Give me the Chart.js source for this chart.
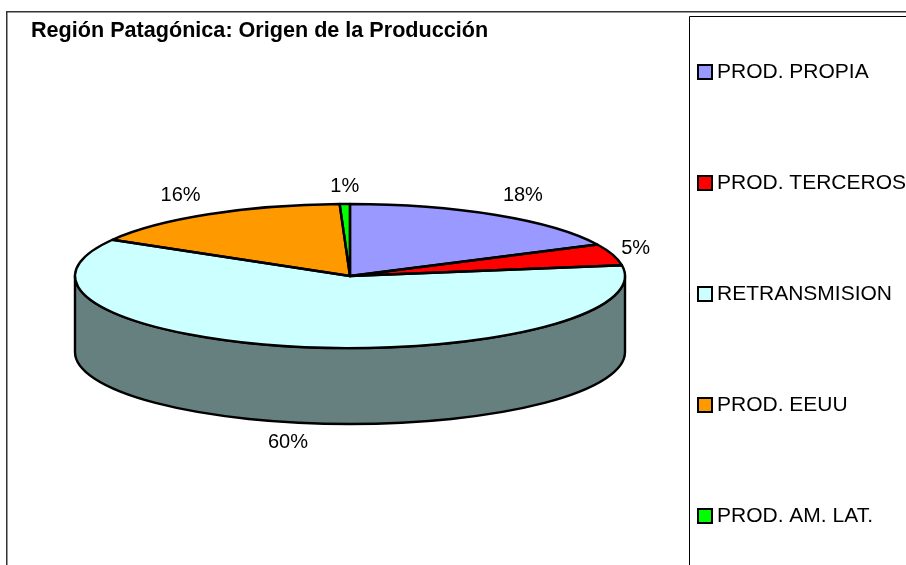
<!DOCTYPE html>
<html><head><meta charset="utf-8">
<style>html,body{margin:0;padding:0;background:#fff;overflow:hidden}canvas{display:block}</style>
<script src="https://cdn.jsdelivr.net/npm/chart.js@4"></script>
</head><body>
<div style="width:906px;height:565px"><canvas id="c" width="906" height="565"></canvas></div>
<script>
const titleText = 'Región Patagónica: Origen de la Producción';
const categories = ['PROD. PROPIA','PROD. TERCEROS','RETRANSMISION','PROD. EEUU','PROD. AM. LAT.'];
const shares = [17.8,4.8,60.8,16.0,0.6];
const shareLabels = ['18%','5%','60%','16%','1%'];
const sliceColors = ['#9999FF','#FF0000','#CCFFFF','#FF9900','#00FF00'];
const wallColors = ['#4C4C80','#800000','#668080','#804C00','#008000'];
const FONT = '"Liberation Sans", Arial, sans-serif';
const GEO = {cx:350, cy:276, rx:275, ry:72, depth:76, stroke:2.4};
const labelOffsets = [[27,-19],[23,-6],[-10.5,20],[-28,-19],[0,-18]];

function swatch(color){
  const s = document.createElement('canvas'); s.width = 16; s.height = 16;
  const g = s.getContext('2d');
  g.fillStyle = color; g.fillRect(1,1,14,14);
  g.strokeStyle = '#000'; g.lineWidth = 2; g.strokeRect(1,1,14,14);
  return s;
}

const pie3d = {
  id:'pie3d',
  beforeLayout(chart){
    const lg = chart.legend;
    if(lg && !lg.__w){ lg.__w = true; const f = lg.fit; lg.fit = function(){ this.maxHeight = 3000; f.call(this); }; }
  },
  afterLayout(chart){
    chart.chartArea = {left:GEO.cx-GEO.rx, right:GEO.cx+GEO.rx, top:GEO.cy-GEO.rx, bottom:GEO.cy+GEO.rx, width:2*GEO.rx, height:2*GEO.rx};
    const t = chart.titleBlock;
    const h = t.height;
    t.left = 31; t.right = 689; t.top = 31-h/2; t.bottom = t.top+h; t.width = 658;
    const lg = chart.legend, p = lg.options.labels.padding, fs = lg.options.labels.font.size;
    lg.left = 703.5-p; lg.right = 906; lg.top = 72-fs/2-p; lg.bottom = 3000; lg.width = lg.right-lg.left; lg.height = lg.bottom-lg.top;
  },
  beforeDraw(chart){
    const c = chart.ctx;
    c.save();
    c.fillStyle='#fff'; c.fillRect(0,0,906,565);
    c.strokeStyle='#333'; c.lineWidth=1.5;
    c.beginPath(); c.moveTo(6.75,570); c.lineTo(6.75,11.75); c.lineTo(910,11.75); c.stroke();
    c.strokeStyle='#000'; c.lineWidth=1;
    c.beginPath(); c.moveTo(689.5,570); c.lineTo(689.5,16.5); c.lineTo(910,16.5); c.stroke();
    c.restore();
  },
  beforeDatasetsDraw(chart){
    const c = chart.ctx, {cx,cy,rx,ry,depth,stroke} = GEO;
    const arcs = chart.getDatasetMeta(0).data;
    c.save();
    c.lineJoin='round'; c.lineWidth=stroke; c.strokeStyle='#000';
    arcs.forEach((arc,i)=>{
      const a = Math.max(arc.startAngle,0), b = Math.min(arc.endAngle,Math.PI);
      if(b<=a) return;
      c.beginPath();
      c.ellipse(cx,cy,rx,ry,0,a,b);
      c.ellipse(cx,cy+depth,rx,ry,0,b,a,true);
      c.closePath();
      c.fillStyle = wallColors[i];
      c.fill(); c.stroke();
    });
    c.restore();
    c.save();
    c.translate(cx,cy); c.scale(1,ry/rx); c.translate(-cx,-cy);
  },
  afterDatasetsDraw(chart){
    const c = chart.ctx, {cx,cy,rx,ry,depth,stroke} = GEO;
    c.restore();
    const arcs = chart.getDatasetMeta(0).data;
    c.save();
    c.lineJoin='round'; c.lineWidth=stroke; c.strokeStyle='#000';
    arcs.forEach(arc=>{
      c.beginPath();
      c.moveTo(arc.x, arc.y);
      c.ellipse(arc.x,arc.y,rx,ry,0,arc.startAngle,arc.endAngle);
      c.closePath();
      c.stroke();
    });
    c.fillStyle='#000'; c.font='20px '+FONT; c.textAlign='center'; c.textBaseline='middle';
    arcs.forEach((arc,i)=>{
      const m=(arc.startAngle+arc.endAngle)/2;
      let x=cx+rx*Math.cos(m), y=cy+ry*Math.sin(m);
      if(Math.sin(m)>0) y+=depth;
      c.fillText(shareLabels[i], x+labelOffsets[i][0], y+labelOffsets[i][1]);
    });
    c.restore();
  }
};

new Chart(document.getElementById('c'),{
  type:'pie',
  data:{labels:categories,datasets:[{data:shares,backgroundColor:sliceColors,borderWidth:0,clip:false}]},
  options:{
    responsive:false,animation:false,
    plugins:{
      title:{display:true,text:titleText,align:'start',color:'#000',padding:0,font:{family:FONT,size:21.6,weight:'bold'}},
      legend:{display:true,position:'right',align:'start',
        labels:{color:'#000',font:{family:FONT,size:21},usePointStyle:true,pointStyleWidth:3,padding:90,
          generateLabels(){return categories.map((t,i)=>({text:t,fillStyle:sliceColors[i],strokeStyle:'#000',lineWidth:2,pointStyle:swatch(sliceColors[i]),hidden:false,index:i}));}}},
      tooltip:{enabled:false}
    }
  },
  plugins:[pie3d]
});
</script>
</body></html>
